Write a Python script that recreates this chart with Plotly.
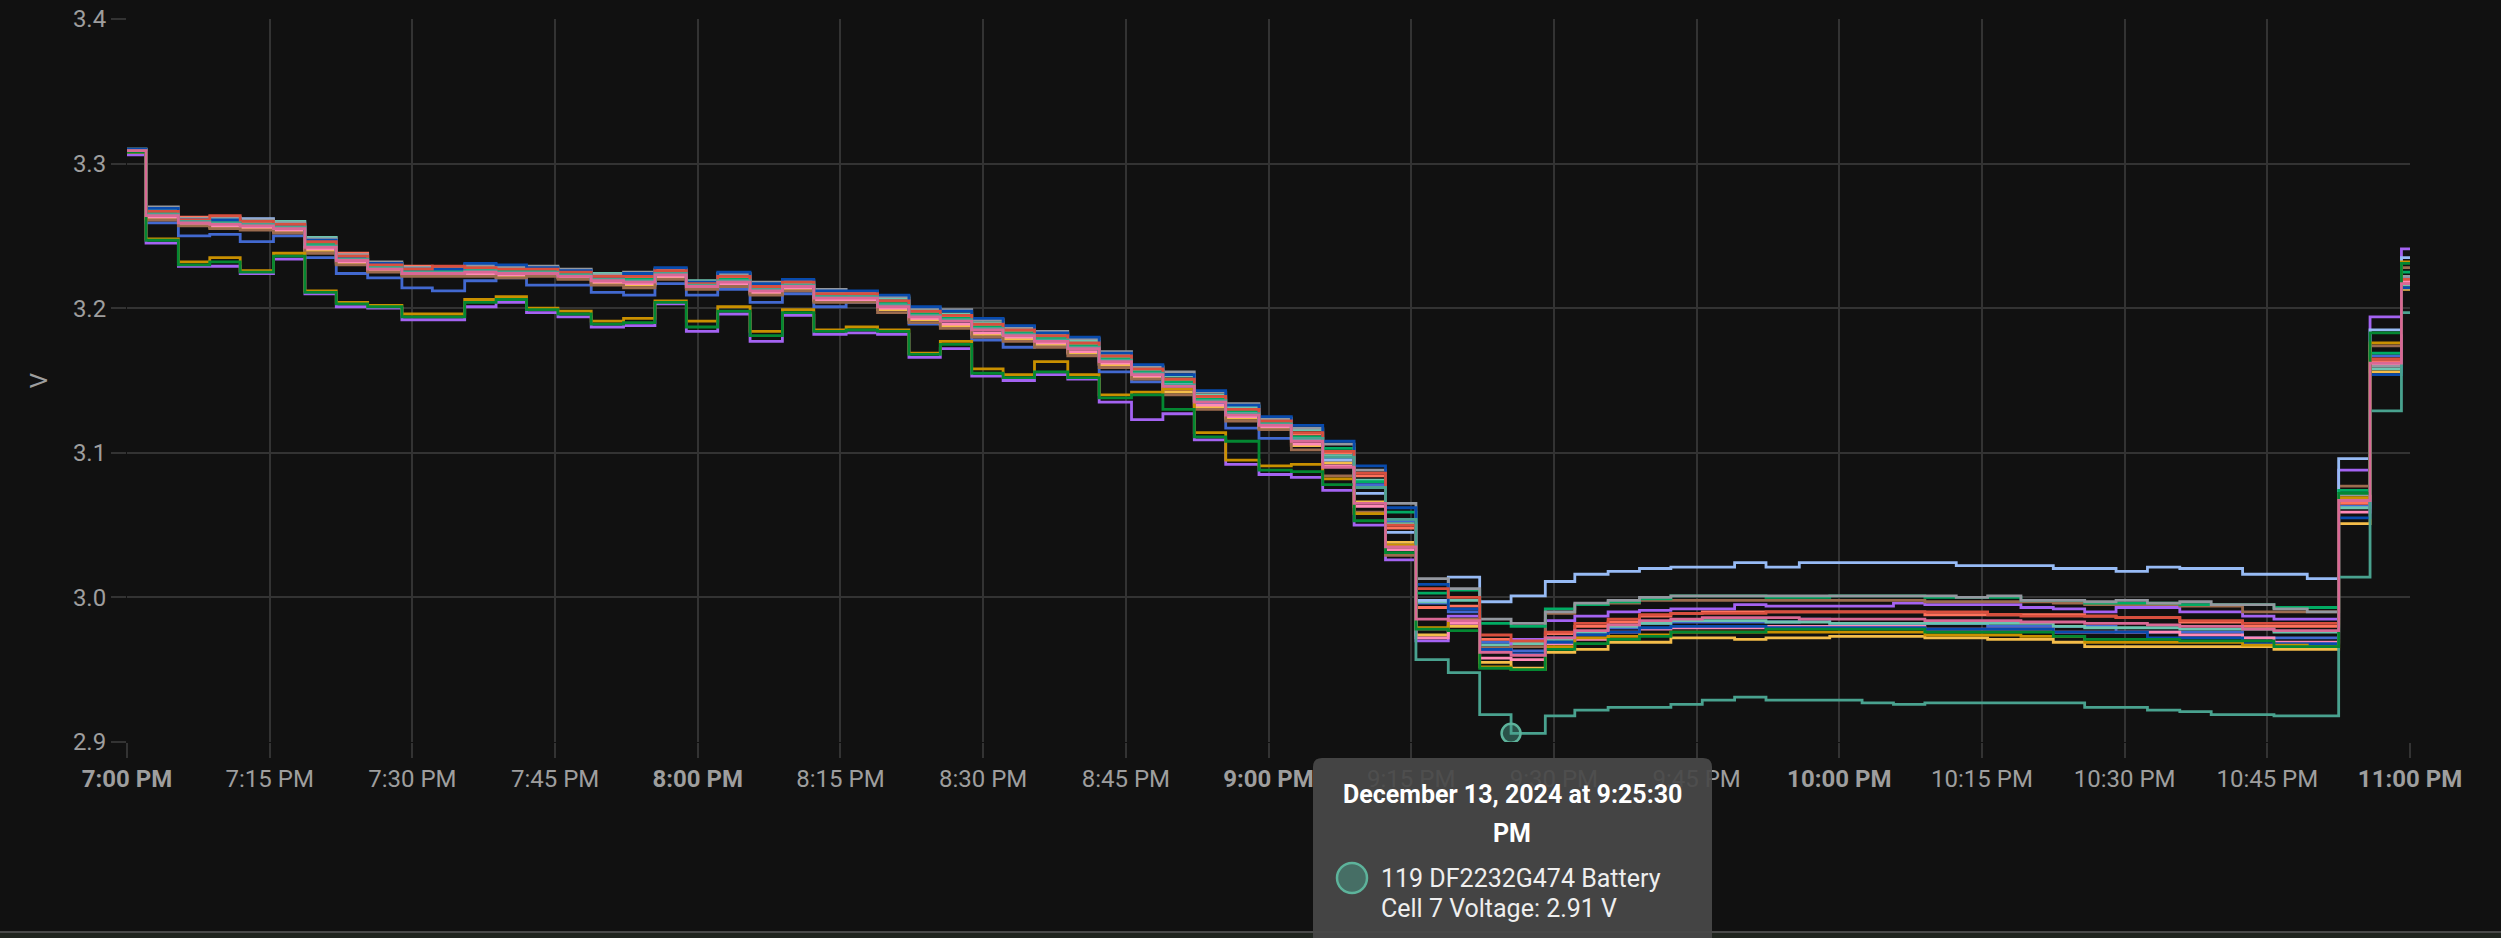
import plotly.graph_objects as go

DAY = "2024-12-13 "

# step times of the history samples (first one is the window start)
times = [
    "19:00:00", "19:02:00", "19:05:24", "19:08:42", "19:11:54", "19:15:24", "19:18:42", "19:22:00",
    "19:25:18", "19:28:54", "19:32:06", "19:35:30", "19:38:48", "19:42:00", "19:45:18", "19:48:48",
    "19:52:12", "19:55:30", "19:58:48", "20:02:06", "20:05:30", "20:08:54", "20:12:12", "20:15:36",
    "20:18:54", "20:22:12", "20:25:30", "20:28:48", "20:32:06", "20:35:24", "20:38:54", "20:42:12",
    "20:45:36", "20:48:54", "20:52:12", "20:55:30", "20:59:00", "21:02:24", "21:05:42", "21:09:00",
    "21:12:18", "21:15:30", "21:18:54", "21:22:12", "21:25:30", "21:29:06", "21:32:12", "21:35:42",
    "21:39:00", "21:42:18", "21:45:36", "21:49:00", "21:52:18", "21:55:48", "21:59:00", "22:02:24",
    "22:05:42", "22:09:00", "22:12:18", "22:15:36", "22:19:06", "22:22:30", "22:25:48", "22:29:06",
    "22:32:24", "22:35:48", "22:39:06", "22:42:24", "22:45:42", "22:49:12", "22:52:30", "22:55:48",
    "22:59:06",
]
end_time = "23:00:00"

# cell voltages in mV
cell_1 = [3307, 3259, 3250, 3251, 3246, 3250, 3235, 3224, 3221, 3214, 3212, 3219, 3221, 3216, 3216, 3211,
          3209, 3217, 3209, 3213, 3204, 3210, 3201, 3204, 3201, 3189, 3189, 3178, 3173, 3175, 3169, 3156,
          3149, 3146, 3134, 3117, 3110, 3109, 3096, 3078, 3053, 2996, 2990, 2969, 2963,
          2972, 2976, 2979, 2982, 2983, 2983, 2983, 2983, 2985, 2982, 2982, 2982, 2982, 2982, 2980, 2980,
          2980, 2980, 2976, 2976, 2976, 2976, 2972, 2972, 2972, 3063, 3167, 3221]
cell_10 = [3308, 3262, 3258, 3256, 3255, 3253, 3240, 3231, 3226, 3223, 3223, 3223, 3222, 3223, 3221, 3217,
           3216, 3221, 3214, 3216, 3210, 3213, 3205, 3205, 3199, 3192, 3188, 3182, 3179, 3175, 3169, 3161,
           3152, 3142, 3132, 3124, 3117, 3105, 3093, 3066, 3038, 2974, 2980, 2955, 2951,
           2962, 2964, 2969, 2969, 2972, 2972, 2971, 2972, 2972, 2973, 2973, 2973, 2972, 2972, 2971, 2971,
           2969, 2966, 2966, 2966, 2966, 2966, 2966, 2964, 2964, 3051, 3156, 3213]
cell_11 = [3309, 3267, 3263, 3261, 3259, 3257, 3245, 3238, 3230, 3229, 3227, 3228, 3227, 3227, 3225, 3221,
           3221, 3225, 3217, 3221, 3215, 3217, 3210, 3209, 3205, 3197, 3194, 3188, 3184, 3180, 3175, 3166,
           3157, 3150, 3138, 3130, 3122, 3113, 3100, 3084, 3048, 2993, 2994, 2971, 2968,
           2975, 2980, 2983, 2987, 2989, 2990, 2990, 2990, 2990, 2990, 2990, 2990, 2988, 2988, 2988, 2988,
           2988, 2987, 2986, 2986, 2983, 2983, 2980, 2980, 2980, 3065, 3163, 3218]
cell_12 = [3310, 3268, 3262, 3262, 3260, 3260, 3249, 3236, 3231, 3228, 3228, 3229, 3228, 3228, 3226, 3224,
           3223, 3226, 3219, 3223, 3216, 3218, 3211, 3210, 3207, 3199, 3196, 3190, 3186, 3182, 3177, 3168,
           3159, 3153, 3140, 3132, 3123, 3116, 3098, 3081, 3051, 2997, 2998, 2967, 2968,
           2971, 2976, 2980, 2982, 2984, 2984, 2984, 2983, 2983, 2982, 2982, 2982, 2982, 2982, 2982, 2982,
           2980, 2979, 2979, 2979, 2978, 2978, 2978, 2976, 2976, 3062, 3158, 3216]
cell_13 = [3306, 3245, 3229, 3229, 3224, 3234, 3210, 3201, 3200, 3192, 3192, 3201, 3204, 3197, 3194, 3187,
           3188, 3203, 3184, 3196, 3177, 3195, 3182, 3183, 3182, 3166, 3172, 3153, 3150, 3154, 3151, 3135,
           3123, 3127, 3109, 3092, 3085, 3083, 3074, 3050, 3026, 2970, 2987, 2964, 2971,
           2984, 2987, 2990, 2991, 2992, 2992, 2995, 2994, 2994, 2994, 2994, 2996, 2995, 2995, 2995, 2993,
           2992, 2990, 2993, 2993, 2990, 2990, 2987, 2985, 2985, 3088, 3194, 3241]
cell_14 = [3308, 3263, 3258, 3257, 3256, 3254, 3241, 3232, 3227, 3224, 3224, 3224, 3223, 3224, 3222, 3218,
           3217, 3222, 3214, 3217, 3211, 3214, 3206, 3206, 3200, 3193, 3189, 3183, 3180, 3176, 3170, 3162,
           3153, 3144, 3133, 3125, 3118, 3106, 3091, 3063, 3033, 2972, 2982, 2958, 2957,
           2968, 2971, 2976, 2978, 2979, 2979, 2979, 2980, 2980, 2980, 2980, 2980, 2978, 2978, 2978, 2978,
           2976, 2976, 2976, 2976, 2974, 2974, 2972, 2969, 2969, 3059, 3161, 3219]
cell_15 = [3308, 3261, 3257, 3255, 3254, 3252, 3238, 3230, 3225, 3222, 3222, 3222, 3221, 3222, 3220, 3216,
           3214, 3220, 3213, 3215, 3209, 3212, 3204, 3204, 3197, 3190, 3186, 3180, 3177, 3173, 3167, 3159,
           3151, 3140, 3130, 3122, 3116, 3102, 3084, 3059, 3029, 2978, 2985, 2965, 2966,
           2989, 2995, 2996, 2998, 2998, 2998, 2998, 2998, 2998, 2998, 2998, 2998, 2997, 2997, 2997, 2997,
           2996, 2995, 2995, 2995, 2994, 2994, 2990, 2990, 2990, 3077, 3174, 3228]
cell_16 = [3309, 3265, 3260, 3259, 3262, 3256, 3243, 3234, 3228, 3225, 3225, 3226, 3225, 3225, 3223, 3220,
           3219, 3224, 3216, 3220, 3213, 3216, 3208, 3208, 3203, 3195, 3192, 3186, 3182, 3178, 3173, 3164,
           3156, 3148, 3136, 3128, 3120, 3110, 3095, 3072, 3045, 2998, 3014, 2997, 3001,
           3011, 3016, 3018, 3020, 3021, 3021, 3024, 3021, 3024, 3024, 3024, 3024, 3024, 3022, 3022, 3022,
           3020, 3020, 3018, 3021, 3020, 3020, 3016, 3016, 3013, 3096, 3185, 3235]
cell_2 = [3309, 3266, 3260, 3260, 3258, 3256, 3244, 3234, 3229, 3226, 3226, 3227, 3226, 3226, 3224, 3220,
          3220, 3224, 3216, 3220, 3214, 3216, 3209, 3208, 3204, 3196, 3193, 3187, 3183, 3179, 3174, 3165,
          3156, 3149, 3137, 3129, 3121, 3111, 3103, 3080, 3059, 3003, 3005, 2982, 2980,
          2992, 2995, 2997, 2999, 3001, 3001, 3001, 3000, 3000, 3001, 3001, 3001, 3000, 3000, 3000, 2998,
          2998, 2996, 2996, 2996, 2995, 2995, 2995, 2993, 2993, 3074, 3169, 3225]
cell_3 = [3310, 3270, 3262, 3263, 3261, 3259, 3248, 3237, 3232, 3228, 3228, 3230, 3229, 3229, 3227, 3223,
          3225, 3227, 3218, 3224, 3218, 3219, 3213, 3211, 3208, 3200, 3199, 3192, 3187, 3184, 3179, 3170,
          3160, 3156, 3142, 3134, 3124, 3117, 3106, 3088, 3065, 3013, 3006, 2985, 2982,
          2990, 2996, 2998, 3000, 3001, 3001, 3001, 3001, 3001, 3001, 3001, 3001, 3001, 3000, 3001, 2998,
          2998, 2997, 2998, 2996, 2997, 2995, 2995, 2992, 2990, 3071, 3160, 3222]
cell_4 = [3310, 3269, 3261, 3261, 3258, 3258, 3247, 3235, 3231, 3227, 3227, 3231, 3230, 3228, 3226, 3222,
          3224, 3228, 3218, 3225, 3217, 3220, 3212, 3212, 3209, 3201, 3198, 3193, 3188, 3183, 3180, 3169,
          3161, 3154, 3143, 3133, 3125, 3119, 3108, 3091, 3062, 3009, 2992, 2964, 2961,
          2969, 2974, 2976, 2979, 2980, 2980, 2980, 2979, 2979, 2979, 2979, 2979, 2978, 2978, 2978, 2978,
          2976, 2976, 2976, 2972, 2972, 2972, 2968, 2968, 2968, 3055, 3154, 3214]
cell_5 = [3308, 3248, 3232, 3235, 3226, 3238, 3212, 3204, 3202, 3196, 3196, 3206, 3208, 3200, 3198, 3191,
          3193, 3205, 3191, 3201, 3184, 3199, 3185, 3187, 3185, 3169, 3177, 3158, 3154, 3163, 3154, 3140,
          3142, 3144, 3114, 3095, 3091, 3092, 3082, 3058, 3036, 2979, 2984, 2952, 2950,
          2966, 2972, 2973, 2974, 2976, 2976, 2976, 2976, 2976, 2976, 2976, 2976, 2974, 2974, 2974, 2973,
          2973, 2969, 2969, 2969, 2969, 2969, 2967, 2967, 2966, 3069, 3176, 3232]
cell_6 = [3309, 3267, 3261, 3264, 3260, 3258, 3246, 3236, 3230, 3227, 3229, 3228, 3227, 3227, 3225, 3222,
          3222, 3226, 3217, 3222, 3215, 3218, 3210, 3210, 3205, 3198, 3195, 3189, 3185, 3181, 3176, 3167,
          3158, 3151, 3139, 3130, 3122, 3114, 3101, 3086, 3050, 3006, 3000, 2974, 2970,
          2976, 2982, 2985, 2988, 2989, 2989, 2989, 2990, 2990, 2990, 2990, 2990, 2990, 2990, 2988, 2987,
          2987, 2987, 2986, 2986, 2984, 2984, 2982, 2982, 2982, 3067, 3165, 3220]
cell_7 = [3309, 3265, 3260, 3259, 3258, 3256, 3243, 3234, 3228, 3225, 3225, 3226, 3225, 3225, 3223, 3220,
          3219, 3224, 3216, 3219, 3213, 3216, 3208, 3208, 3202, 3195, 3192, 3186, 3182, 3178, 3173, 3164,
          3155, 3147, 3136, 3127, 3120, 3110, 3097, 3076, 3054, 2957, 2948, 2919, 2906,
          2918, 2922, 2924, 2924, 2926, 2929, 2931, 2929, 2929, 2929, 2927, 2926, 2927, 2927, 2927, 2927,
          2927, 2924, 2924, 2922, 2921, 2919, 2919, 2918, 2918, 3014, 3129, 3197]
cell_8 = [3308, 3247, 3230, 3232, 3225, 3236, 3211, 3203, 3201, 3194, 3194, 3204, 3206, 3199, 3196, 3189,
          3190, 3204, 3187, 3198, 3181, 3197, 3184, 3185, 3184, 3168, 3175, 3155, 3152, 3156, 3152, 3138,
          3140, 3130, 3111, 3108, 3088, 3087, 3078, 3053, 3031, 2978, 2977, 2951, 2950,
          2964, 2968, 2971, 2973, 2976, 2976, 2976, 2978, 2978, 2978, 2978, 2978, 2976, 2976, 2976, 2976,
          2973, 2971, 2971, 2971, 2970, 2970, 2970, 2966, 2966, 3072, 3183, 3231]
cell_9 = [3309, 3264, 3259, 3258, 3257, 3255, 3242, 3233, 3227, 3224, 3224, 3225, 3224, 3224, 3222, 3219,
          3218, 3223, 3215, 3218, 3212, 3215, 3207, 3207, 3201, 3194, 3191, 3185, 3181, 3177, 3172, 3163,
          3154, 3146, 3135, 3126, 3119, 3108, 3090, 3065, 3035, 2985, 2984, 2962, 2960,
          2972, 2977, 2981, 2984, 2985, 2986, 2986, 2986, 2985, 2985, 2985, 2985, 2984, 2984, 2984, 2983,
          2983, 2982, 2982, 2981, 2980, 2980, 2978, 2977, 2977, 3067, 3162, 3217]

# history order (entity names sorted as text) with the default palette
series = [
    ("Cell 1", cell_1, "#4269d0"),
    ("Cell 10", cell_10, "#f4bd4a"),
    ("Cell 11", cell_11, "#ff725c"),
    ("Cell 12", cell_12, "#6cc5b0"),
    ("Cell 13", cell_13, "#a463f2"),
    ("Cell 14", cell_14, "#ff8ab7"),
    ("Cell 15", cell_15, "#9c6b4e"),
    ("Cell 16", cell_16, "#97bbf5"),
    ("Cell 2", cell_2, "#01ab63"),
    ("Cell 3", cell_3, "#9498a0"),
    ("Cell 4", cell_4, "#094bad"),
    ("Cell 5", cell_5, "#c99000"),
    ("Cell 6", cell_6, "#d84f3e"),
    ("Cell 7", cell_7, "#49a28f"),
    ("Cell 8", cell_8, "#048732"),
    ("Cell 9", cell_9, "#d96895"),
]

tick_times = ["19:00", "19:15", "19:30", "19:45", "20:00", "20:15", "20:30", "20:45", "21:00",
              "21:15", "21:30", "21:45", "22:00", "22:15", "22:30", "22:45", "23:00"]
tick_labels = ["7:00 PM", "7:15 PM", "7:30 PM", "7:45 PM", "8:00 PM", "8:15 PM", "8:30 PM", "8:45 PM",
               "9:00 PM", "9:15 PM", "9:30 PM", "9:45 PM", "10:00 PM", "10:15 PM", "10:30 PM",
               "10:45 PM", "11:00 PM"]

hover_index = 44
hover_cell = "Cell 7"
hover_title = "December 13, 2024 at 9:25:30"

BG = "#111111"
GRID = "#333333"
LABEL = "#9e9e9e"
FONT = "Roboto"

W, H = 2501, 938
L, R, T, B = 127, 91, 19, 196
PW, PH = W - L - R, H - T - B

x_all = [DAY + t for t in times] + [DAY + end_time]

fig = go.Figure()
for name, mv, color in series:
    volts = [v / 1000 for v in mv]
    volts = volts + [volts[-1]]
    fig.add_trace(go.Scatter(
        x=x_all, y=volts, mode="lines", name="119 DF2232G474 Battery " + name + " Voltage",
        line=dict(color=color, width=2.8, shape="hv"), hoverinfo="skip", showlegend=False))

# hovered point
hv = dict((n, (m, c)) for n, m, c in series)[hover_cell]
fig.add_trace(go.Scatter(
    x=[DAY + times[hover_index]], y=[hv[0][hover_index] / 1000], mode="markers",
    marker=dict(size=19, color="rgba(73,162,143,0.45)", line=dict(color="#5db39b", width=2.5)),
    hoverinfo="skip", showlegend=False))


def px(x):
    return (x - L) / PW


def py(y):
    return (H - B - y) / PH


# tooltip box
bx0, bx1, by0, by1, rad = 1313, 1712, 758, 960, 9
path = "M {},{} L {},{} Q {},{} {},{} L {},{} Q {},{} {},{} L {},{} Z".format(
    px(bx0), py(by1), px(bx0), py(by0 + rad), px(bx0), py(by0), px(bx0 + rad), py(by0),
    px(bx1 - rad), py(by0), px(bx1), py(by0), px(bx1), py(by0 + rad), px(bx1), py(by1))
shapes = [
    dict(type="rect", xref="paper", yref="paper", x0=px(-10), x1=px(W + 10), y0=py(932), y1=py(945),
         fillcolor="#20251f", line=dict(color="#4a4a4a", width=2), layer="above"),
    dict(type="path", xref="paper", yref="paper", path=path,
         fillcolor="rgba(72,72,72,0.93)", line=dict(width=0), layer="above"),
    dict(type="circle", xref="paper", yref="paper",
         x0=px(1352 - 15), x1=px(1352 + 15), y0=py(878 + 15), y1=py(878 - 15),
         fillcolor="rgba(73,162,143,0.45)", line=dict(color="#5db39b", width=2.5), layer="above"),
]

annotations = [
    dict(text="<b>" + hover_title + "</b>", x=px(1512), y=py(794), xref="paper", yref="paper",
         showarrow=False, xanchor="center", yanchor="middle",
         font=dict(family=FONT, size=25, color="#ffffff")),
    dict(text="<b>PM</b>", x=px(1512), y=py(833), xref="paper", yref="paper",
         showarrow=False, xanchor="center", yanchor="middle",
         font=dict(family=FONT, size=25, color="#ffffff")),
    dict(text="119 DF2232G474 Battery", x=px(1379), y=py(878), xref="paper", yref="paper",
         showarrow=False, xanchor="left", yanchor="middle",
         font=dict(family=FONT, size=25, color="#eeeeee")),
    dict(text="{} Voltage: {:.2f} V".format(hover_cell, hv[0][hover_index] / 1000),
         x=px(1379), y=py(908), xref="paper", yref="paper",
         showarrow=False, xanchor="left", yanchor="middle",
         font=dict(family=FONT, size=25, color="#eeeeee")),
]

tick_text = ["<b>" + t + "</b>" if t.split(":")[1].startswith("00") else t for t in tick_labels]

fig.update_layout(
    width=W, height=H,
    margin=dict(l=L, r=R, t=T, b=B, pad=0),
    paper_bgcolor=BG, plot_bgcolor=BG,
    font=dict(family=FONT, size=24, color=LABEL),
    showlegend=False,
    shapes=shapes,
    annotations=annotations,
    xaxis=dict(
        type="date", range=[DAY + "19:00", DAY + "23:00"],
        tickvals=[DAY + t for t in tick_times], ticktext=tick_text,
        showgrid=True, gridcolor=GRID, gridwidth=2,
        ticks="outside", ticklen=15, tickcolor=GRID, tickwidth=2,
        tickfont=dict(family=FONT, size=24, color=LABEL),
        showline=False, zeroline=False, automargin=False,
    ),
    yaxis=dict(
        range=[2.9, 3.4], tick0=2.9, dtick=0.1, tickformat=".1f",
        showgrid=True, gridcolor=GRID, gridwidth=2,
        ticks="outside", ticklen=15, tickcolor=GRID, tickwidth=2,
        tickfont=dict(family=FONT, size=24, color=LABEL),
        showline=False, zeroline=False, automargin=False,
        title=dict(text="V", font=dict(family=FONT, size=24, color=LABEL), standoff=18),
    ),
)

# page without the default body margin, same dark background as the card
fig.write_html(
    "out.html",
    config={"displayModeBar": False},
    post_script="document.body.style.margin='0';document.body.style.background='#111111';"
                "document.body.style.overflow='hidden';",
)
